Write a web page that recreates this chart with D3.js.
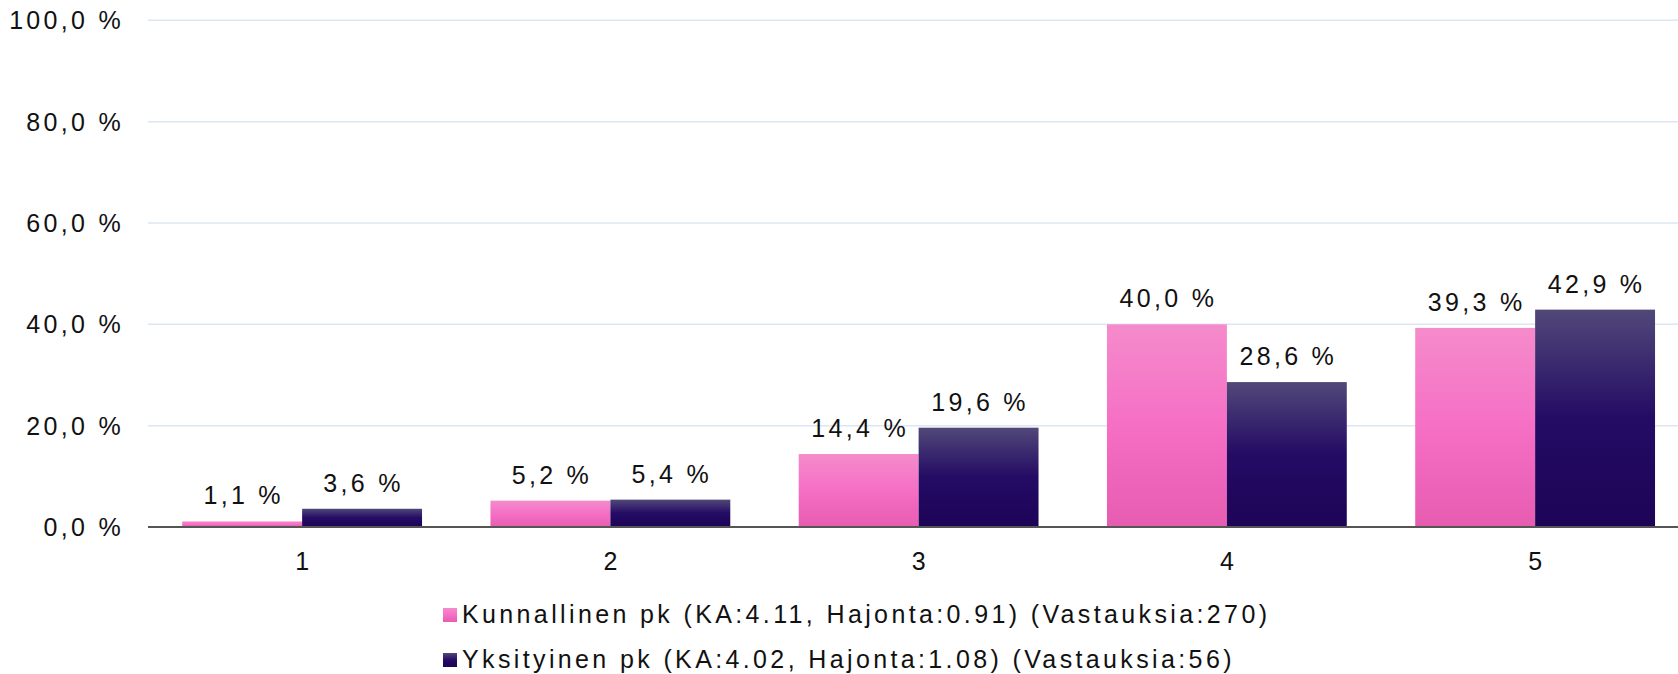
<!DOCTYPE html>
<html>
<head>
<meta charset="utf-8">
<script src="https://cdn.jsdelivr.net/npm/d3@7/dist/d3.min.js"></script>
<style>
  html, body { margin: 0; padding: 0; background: #fff; }
  svg { display: block; font-family: "Liberation Sans", Arial, sans-serif; }
</style>
</head>
<body>
<svg id="chart" width="1678" height="674"></svg>
<script>
const categories = ["1", "2", "3", "4", "5"];
const seriesNames = [
  "Kunnallinen pk (KA:4.11, Hajonta:0.91) (Vastauksia:270)",
  "Yksityinen pk (KA:4.02, Hajonta:1.08) (Vastauksia:56)"
];
const kunnallinen = [1.1, 5.2, 14.4, 40.0, 39.3];
const yksityinen = [3.6, 5.4, 19.6, 28.6, 42.9];
const yTicks = [0, 20, 40, 60, 80, 100];

const seriesValues = [kunnallinen, yksityinen];
const svg = d3.select("#chart");
const W = 1678;

const plotLeft = 148, plotTop = 20.3, plotBottom = 527;
const bandW = 308.25;

const x0 = d3.scaleBand().domain(categories).range([plotLeft, plotLeft + bandW * categories.length]).padding(0);
const x1 = d3.scaleBand().domain(d3.range(seriesNames.length))
  .range([x0.bandwidth() * 0.111, x0.bandwidth() * 0.889]).padding(0);
const y = d3.scaleLinear().domain([0, 100]).range([plotBottom, plotTop]);

const fmt = v => d3.format(".1f")(v).replace(".", ",") + " %";

// gradients
const defs = svg.append("defs");
const g1 = defs.append("linearGradient").attr("id", "gPink").attr("x1", 0).attr("y1", 0).attr("x2", 0).attr("y2", 1);
g1.append("stop").attr("offset", "0%").attr("stop-color", "#f58bcb");
g1.append("stop").attr("offset", "50%").attr("stop-color", "#f56fc5");
g1.append("stop").attr("offset", "100%").attr("stop-color", "#e65cb1");
const g2 = defs.append("linearGradient").attr("id", "gDark").attr("x1", 0).attr("y1", 0).attr("x2", 0).attr("y2", 1);
g2.append("stop").attr("offset", "0%").attr("stop-color", "#514879");
g2.append("stop").attr("offset", "50%").attr("stop-color", "#240b64");
g2.append("stop").attr("offset", "100%").attr("stop-color", "#1d0457");
const fills = ["url(#gPink)", "url(#gDark)"];

// gridlines
svg.append("g").selectAll("line").data(yTicks.filter(t => t > 0)).join("line")
  .attr("x1", plotLeft).attr("x2", W)
  .attr("y1", d => y(d)).attr("y2", d => y(d))
  .attr("stroke", "#dce6f4").attr("stroke-width", 1.5);

// y tick labels
svg.append("g").selectAll("text").data(yTicks).join("text")
  .attr("x", 124).attr("y", d => y(d))
  .attr("text-anchor", "end").attr("dominant-baseline", "central")
  .attr("font-size", 25).attr("letter-spacing", 3.3).attr("fill", "#111")
  .text(d => fmt(d));

// bars
const groups = svg.append("g").selectAll("g").data(categories).join("g")
  .attr("transform", c => `translate(${x0(c)},0)`);
groups.selectAll("rect").data((c, i) => seriesValues.map((s, k) => ({k, v: s[i]}))).join("rect")
  .attr("x", d => x1(d.k)).attr("width", x1.bandwidth())
  .attr("y", d => y(d.v)).attr("height", d => y(0) - y(d.v))
  .attr("fill", d => fills[d.k]);
groups.selectAll("text").data((c, i) => seriesValues.map((s, k) => ({k, v: s[i]}))).join("text")
  .attr("x", d => x1(d.k) + x1.bandwidth() / 2 + 1.5).attr("y", d => y(d.v) - 17)
  .attr("text-anchor", "middle")
  .attr("font-size", 25).attr("letter-spacing", 3.3).attr("fill", "#111")
  .text(d => fmt(d.v));

// x axis line
svg.append("line").attr("x1", plotLeft).attr("x2", W).attr("y1", y(0)).attr("y2", y(0))
  .attr("stroke", "#555").attr("stroke-width", 2);

// category labels
svg.append("g").selectAll("text").data(categories).join("text")
  .attr("x", c => x0(c) + x0.bandwidth() / 2).attr("y", 570)
  .attr("text-anchor", "middle").attr("font-size", 25).attr("fill", "#111")
  .text(c => c);

// legend
const legendBase = [623, 668];
const legend = svg.append("g").selectAll("g").data(seriesNames).join("g");
legend.append("rect").attr("x", 443).attr("y", (d, i) => legendBase[i] - 15)
  .attr("width", 14).attr("height", 14).attr("fill", (d, i) => fills[i]);
const legText = legend.append("text").attr("x", 462).attr("y", (d, i) => legendBase[i])
  .attr("font-size", 25).attr("fill", "#111")
  .text(d => d);
// letter spacing so that the first line spans the reference width
const first = legText.nodes()[0];
const natural = first.getComputedTextLength();
const ls = Math.max(0, (805 - natural) / (seriesNames[0].length - 1));
legText.attr("letter-spacing", ls);
</script>
</body>
</html>
